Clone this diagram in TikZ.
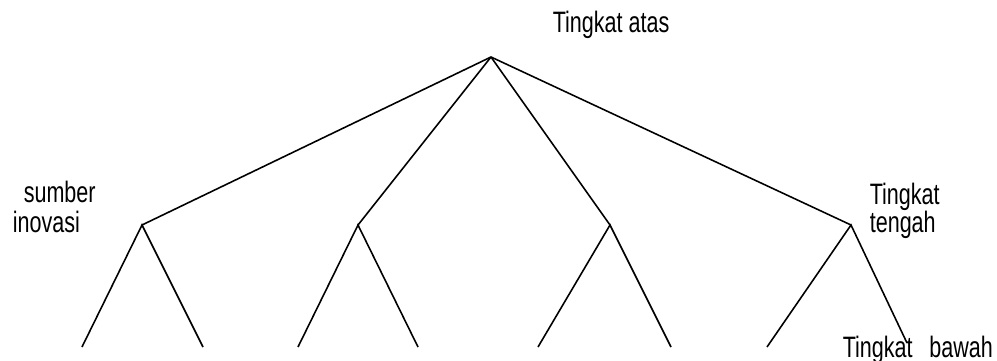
\documentclass[tikz,border=0pt]{standalone}
\usepackage{fontspec}
\setmainfont[FakeStretch=0.73]{Liberation Sans}
\begin{document}
\begin{tikzpicture}[x=0.02cm, y=-0.02cm, line width=.9pt]
\tikzset{label/.style={anchor=base west, inner sep=0pt, font=\fontsize{16.8}{19}\selectfont}}
\useasboundingbox (0,0) rectangle (997,361);
\node[label] (atas) at (552,33) {Tingkat atas};
\node[label] (sumber) at (23,203) {sumber};
\node[label] (inovasi) at (12,233) {inovasi};
\node[label] (tengah1) at (869,205) {Tingkat};
\node[label] (tengah2) at (869,233) {tengah};
\node[label] (bawah) at (842,357) {Tingkat\hspace{9.5pt}bawah};

\coordinate (T) at (491,57);
\coordinate (M1) at (142,225);
\coordinate (M2) at (358,225);
\coordinate (M3) at (610,225);
\coordinate (M4) at (851,225);
\coordinate (L1) at (82,347);
\coordinate (L2) at (203,347);
\coordinate (L3) at (298,347);
\coordinate (L4) at (418,347);
\coordinate (L5) at (538,347);
\coordinate (L6) at (671,347);
\coordinate (L7) at (767,347);
\coordinate (L8) at (907,343);

\foreach \m/\a/\b in {1/1/2, 2/3/4, 3/5/6, 4/7/8}
{
    \draw (T)--(M\m);
    \draw (L\a)--(M\m)--(L\b);
}

\end{tikzpicture}
\end{document}
